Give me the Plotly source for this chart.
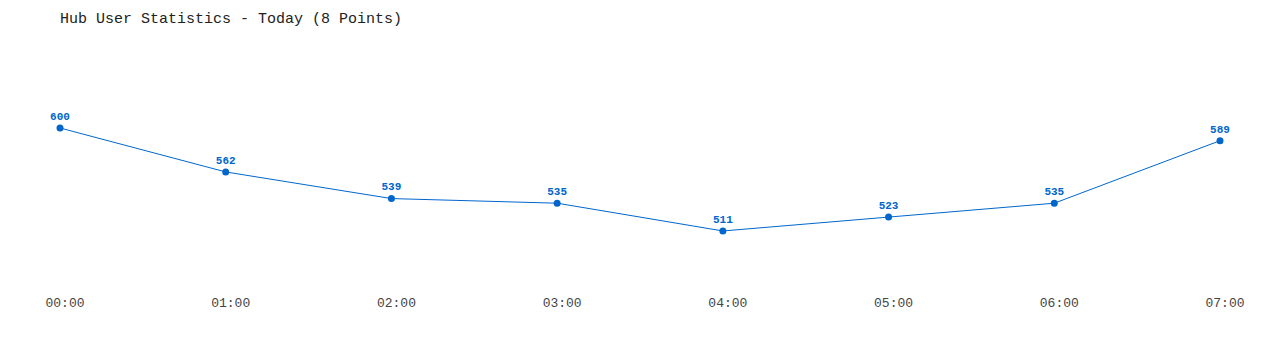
import plotly.graph_objects as go

hours = ["00:00", "01:00", "02:00", "03:00", "04:00", "05:00", "06:00", "07:00"]
users = [600, 562, 539, 535, 511, 523, 535, 589]
title_text = "Hub User Statistics - Today (8 Points)"

BLUE = "#0066cc"
FONT = "Liberation Mono, DejaVu Sans Mono, monospace"

fig = go.Figure()
fig.add_trace(go.Scatter(
    x=list(range(len(hours))), y=users,
    mode="lines+markers+text",
    line=dict(color=BLUE, width=1),
    marker=dict(color=BLUE, size=7),
    text=[str(v) for v in users],
    textposition="top center",
    textfont=dict(family=FONT, size=11, color=BLUE, weight="bold"),
    cliponaxis=False,
    hoverinfo="skip",
))

fig.update_layout(
    width=1280, height=350,
    margin=dict(l=60, r=60, t=50, b=65),
    paper_bgcolor="white", plot_bgcolor="white",
    showlegend=False,
    title=dict(text=title_text, x=60/1280, xanchor="left", y=1-18/350, yanchor="middle",
               font=dict(family=FONT, size=15, color="#222222")),
    font=dict(family=FONT),
)
fig.update_xaxes(
    range=[0, 7], tickmode="array", tickvals=list(range(len(hours))), ticktext=hours,
    showgrid=False, zeroline=False, showline=False, ticks="",
    tickfont=dict(family=FONT, size=13, color="#444444"),
    ticklabelshift=5, ticklabelstandoff=8,
)
fig.update_yaxes(range=[464.3, 667.4], visible=False, showgrid=False, zeroline=False)

fig.write_html("out.html")
